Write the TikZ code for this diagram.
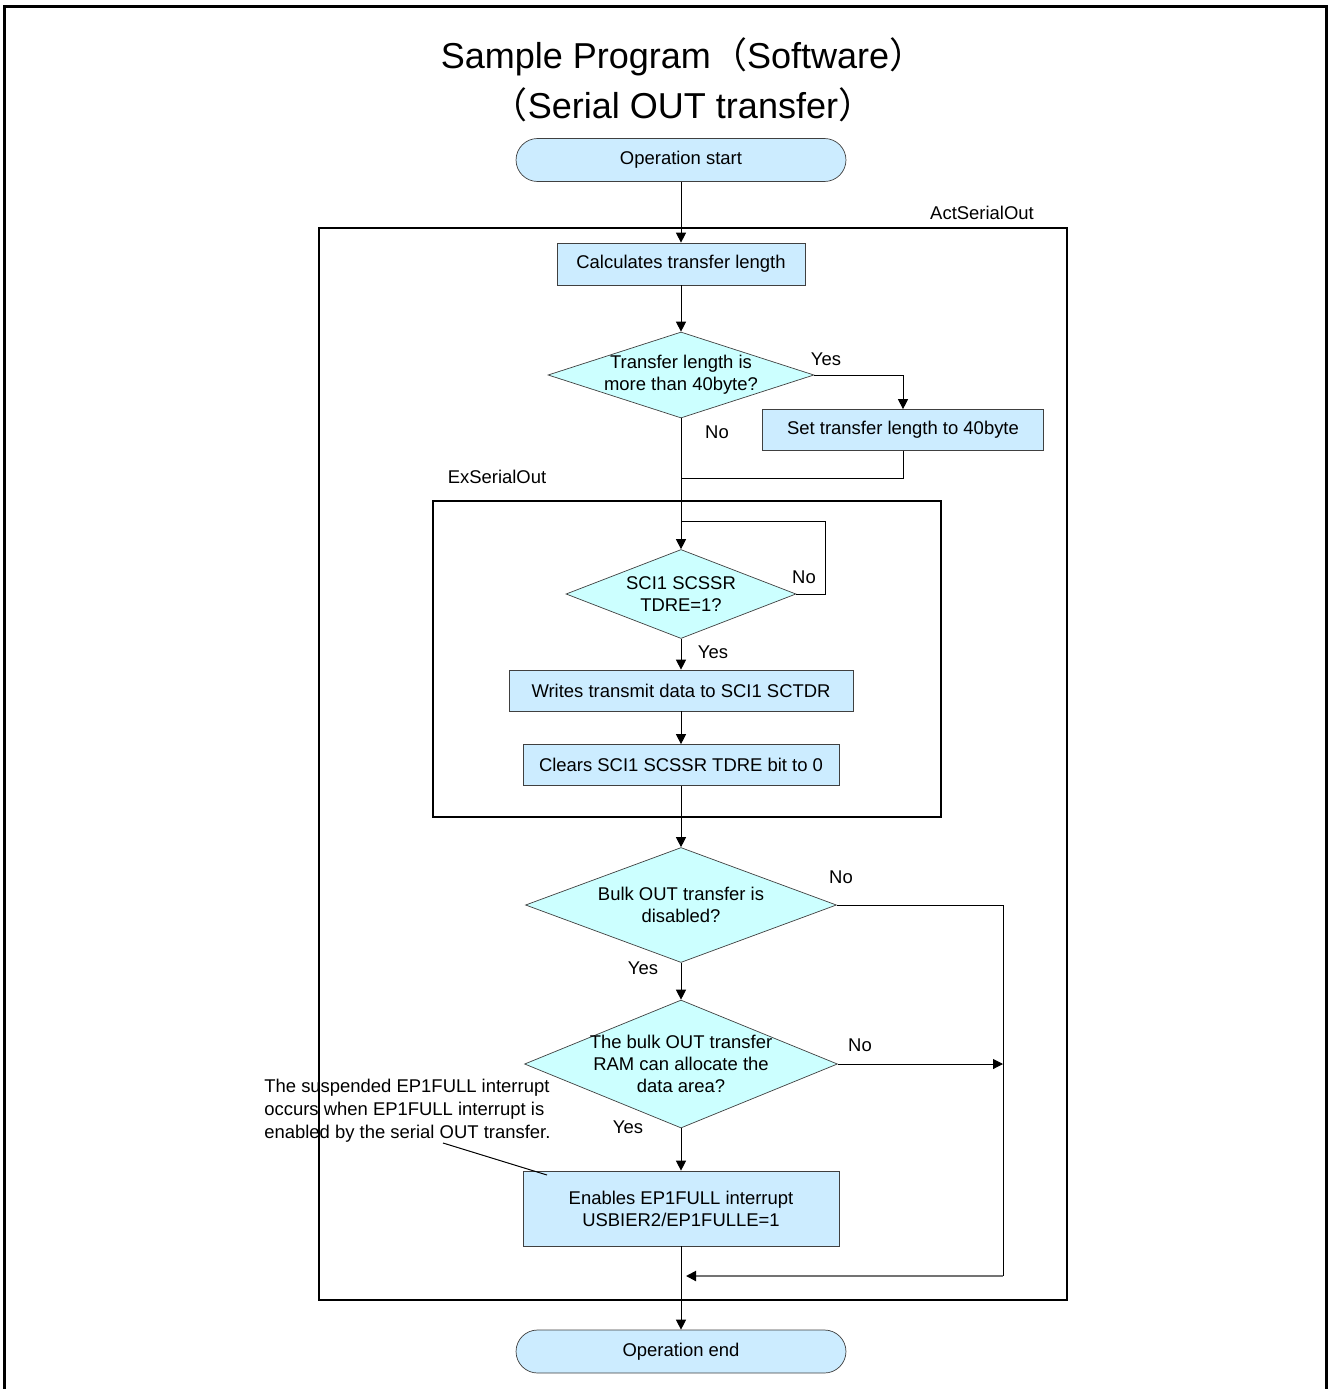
\documentclass[tikz,border=0pt]{standalone}
\usepackage{fontspec}
\setmainfont{Liberation Sans}
\newfontfamily\cjk{Noto Sans CJK JP}
\usetikzlibrary{shapes.geometric,arrows.meta}
\definecolor{boxBlue}{RGB}{204,236,255}
\definecolor{decCyan}{RGB}{204,255,255}
\definecolor{edgeGray}{RGB}{64,64,64}
\tikzset{
myTerm/.style={
	rectangle, rounded corners=0.43cm, draw=edgeGray, fill=boxBlue,
	minimum width=6.6cm, minimum height=0.86cm, inner sep=0pt
}
, myBox/.style={
	rectangle, draw=edgeGray, fill=boxBlue,
	inner sep=0pt, align=center
}
, myDecision/.style={
	diamond, draw=edgeGray, fill=decCyan, inner sep=0pt
}
, myText/.style={inner sep=0pt, align=center}
% links
, myFlow/.style={->, line width=0.02cm}
, myLine/.style={line width=0.02cm}
, myBack/.style={-{Triangle[length=0.2cm,width=0.2cm,color=black]}, line width=0.04cm, color=black!55}
, myGroup/.style={line width=0.04cm}
}

\begin{document}
\begin{tikzpicture}[x=0.02cm, y=-0.02cm, >={Triangle[length=0.2cm,width=0.2cm]},
	font=\fontsize{10.5pt}{12.6pt}\selectfont]
	\useasboundingbox (0,0) rectangle (1328,1389);
	% frame
	\draw[line width=0.06cm] (4.5,1389) -- (4.5,6.5) -- (1326.5,6.5) -- (1326.5,1389);
	% title
	\node[myText, font=\fontsize{20.5pt}{28.5pt}\selectfont] (title) at (683,80)
		{Sample Program{\cjk （}Software{\cjk ）}\\{\cjk （}Serial OUT transfer{\cjk ）}};

	% groups
	\draw[myGroup] (319,228) rectangle (1067,1300);
	\node[myText] (actLabel) at (982,213) {ActSerialOut};
	\draw[myGroup] (433,501) rectangle (941,817);
	\node[myText] (exLabel) at (497,477) {ExSerialOut};

	% nodes
	\node[myTerm] (start) at (681,160) {Operation start};
	\node[myBox, minimum width=4.96cm, minimum height=0.84cm] (calc) at (681,264) {Calculates transfer length};
	\node[myDecision, minimum width=5.32cm, minimum height=1.72cm] (lenQ) at (681,375) {};
	\node[myText] (lenQText) at (lenQ) {Transfer length is\\more than 40byte?};
	\node[myBox, minimum width=5.62cm, minimum height=0.82cm] (setLen) at (903,430) {Set transfer length to 40byte};
	\node[myDecision, minimum width=4.6cm, minimum height=1.78cm] (tdreQ) at (681,594) {};
	\node[myText] (tdreQText) at (tdreQ) {SCI1 SCSSR\\TDRE=1?};
	\node[myBox, minimum width=6.88cm, minimum height=0.82cm] (write) at (681,690.5) {Writes transmit data to SCI1 SCTDR};
	\node[myBox, minimum width=6.32cm, minimum height=0.82cm] (clear) at (681,765) {Clears SCI1 SCSSR TDRE bit to 0};
	\node[myDecision, minimum width=6.22cm, minimum height=2.3cm] (bulkQ) at (681,905) {};
	\node[myText] (bulkQText) at (bulkQ) {Bulk OUT transfer is\\disabled?};
	\node[myDecision, minimum width=6.26cm, minimum height=2.56cm] (ramQ) at (681,1064) {};
	\node[myText] (ramQText) at (ramQ) {The bulk OUT transfer\\RAM can allocate the\\data area?};
	\node[myBox, minimum width=6.32cm, minimum height=1.5cm] (enable) at (681,1208.5) {Enables EP1FULL interrupt\\USBIER2/EP1FULLE=1};
	\node[myTerm] (stop) at (681,1351.5) {Operation end};

	% note
	\node[myText, anchor=west, align=left, font=\fontsize{10.5pt}{13pt}\selectfont] (note) at (264,1111)
		{The suspended EP1FULL interrupt\\occurs when EP1FULL interrupt is\\enabled by the serial OUT transfer.};
	\coordinate (noteTail) at (443,1143);
	\coordinate (noteHead) at (547,1175);
	\draw[myLine] (noteTail) -- (noteHead);

	% branch labels
	\node[myText] (lenYes) at (826,359) {Yes};
	\node[myText] (lenNo) at (717,432) {No};
	\node[myText] (tdreNo) at (804,577) {No};
	\node[myText] (tdreYes) at (713,652) {Yes};
	\node[myText] (bulkNo) at (841,877) {No};
	\node[myText] (bulkYes) at (643,968) {Yes};
	\node[myText] (ramNo) at (860,1045) {No};
	\node[myText] (ramYes) at (628,1127) {Yes};

	% helper points
	\coordinate (join) at (681,478);
	\coordinate (loopIn) at (681,521);
	\coordinate (loopTop) at (825,521);
	\coordinate (skipCorner) at (1003,1276);
	\coordinate (skipIn) at (686,1276);

	% links
	\draw[myFlow] (start) -- (calc);
	\draw[myFlow] (calc) -- (lenQ);
	\draw[myFlow] (lenQ.east) -| (setLen.north);
	\draw[myLine] (setLen.south) |- (join);
	\draw[myFlow] (lenQ.south) -- (tdreQ.north);
	\draw[myLine] (tdreQ.east) -| (loopTop) -- (loopIn);
	\draw[myFlow] (tdreQ.south) -- (write.north);
	\draw[myFlow] (write) -- (clear);
	\draw[myFlow] (clear.south) -- (bulkQ.north);
	\draw[myLine] (bulkQ.east) -| (skipCorner);
	\draw[myBack] (skipCorner) -- (skipIn);
	\draw[myFlow] (bulkQ.south) -- (ramQ.north);
	\draw[myFlow] (ramQ.east) -- (ramQ.east -| skipCorner);
	\draw[myFlow] (ramQ.south) -- (enable.north);
	\draw[myFlow] (enable.south) -- (stop.north);
\end{tikzpicture}
\end{document}
